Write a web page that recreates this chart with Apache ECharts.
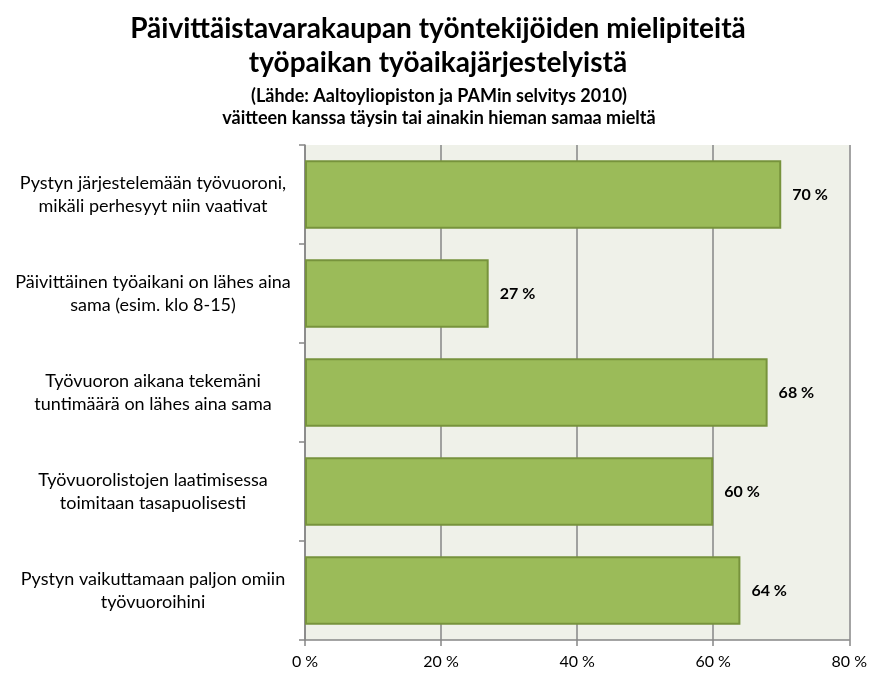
<!DOCTYPE html>
<html>
<head>
<meta charset="utf-8">
<script src="https://cdn.jsdelivr.net/npm/echarts@6/dist/echarts.min.js"></script>
<style>
  html, body { margin: 0; padding: 0; background: #fff; }
  #main { width: 870px; height: 673px; }
</style>
</head>
<body>
<div id="main"></div>
<script>
var categories = [
  'Pystyn järjestelemään työvuoroni,\nmikäli perhesyyt niin vaativat',
  'Päivittäinen työaikani on lähes aina\nsama (esim. klo 8-15)',
  'Työvuoron aikana tekemäni\ntuntimäärä on lähes aina sama',
  'Työvuorolistojen laatimisessa\ntoimitaan tasapuolisesti',
  'Pystyn vaikuttamaan paljon omiin\ntyövuoroihini'
]
var values = [70, 27, 68, 60, 64]

var font = 'Lato, "Open Sans", sans-serif'
var myChart = echarts.init(document.getElementById('main'))

var option = {
  backgroundColor: '#fff',
  title: [
    {
      text: 'Päivittäistavarakaupan työntekijöiden mielipiteitä\ntyöpaikan työaikajärjestelyistä',
      left: 433,
      top: 7,
      textAlign: 'center',
      textStyle: { fontFamily: font, fontSize: 28, fontWeight: 'bold', color: '#000', lineHeight: 34 }
    },
    {
      text: '(Lähde: Aaltoyliopiston ja PAMin selvitys 2010)\nväitteen kanssa täysin tai ainakin hieman samaa mieltä',
      left: 434,
      top: 80,
      textAlign: 'center',
      textStyle: { fontFamily: font, fontSize: 18, fontWeight: 'bold', color: '#000', lineHeight: 22 }
    }
  ],
  grid: {
    left: 305, right: 17, top: 145, bottom: 33,
    show: true, backgroundColor: '#eff1e9', borderWidth: 0
  },
  xAxis: {
    type: 'value',
    min: 0, max: 80, interval: 20,
    axisLine: { show: true, lineStyle: { color: '#868686', width: 1.5 } },
    axisTick: { show: true, length: 6, lineStyle: { color: '#868686', width: 1.5 } },
    splitLine: { show: true, lineStyle: { color: '#868686', width: 1.5 } },
    axisLabel: {
      formatter: '{value} %', fontFamily: font, fontSize: 16, color: '#000', margin: 14
    }
  },
  yAxis: {
    type: 'category',
    data: categories,
    inverse: true,
    axisLine: { show: true, lineStyle: { color: '#868686', width: 1.5 } },
    axisTick: { show: true, length: 6, lineStyle: { color: '#868686', width: 1.5 } },
    axisLabel: {
      fontFamily: font, fontSize: 18, color: '#000', lineHeight: 23,
      align: 'center', margin: 152
    }
  },
  series: [
    {
      type: 'bar',
      data: values,
      barCategoryGap: '31%',
      itemStyle: { color: '#9bbb59', borderColor: '#77933c', borderWidth: 2 },
      label: {
        show: true, position: 'right', distance: 11,
        formatter: '{c} %',
        fontFamily: font, fontSize: 16, fontWeight: 'bold', color: '#000'
      },
      silent: true
    }
  ]
}
myChart.setOption(option)
</script>
</body>
</html>
